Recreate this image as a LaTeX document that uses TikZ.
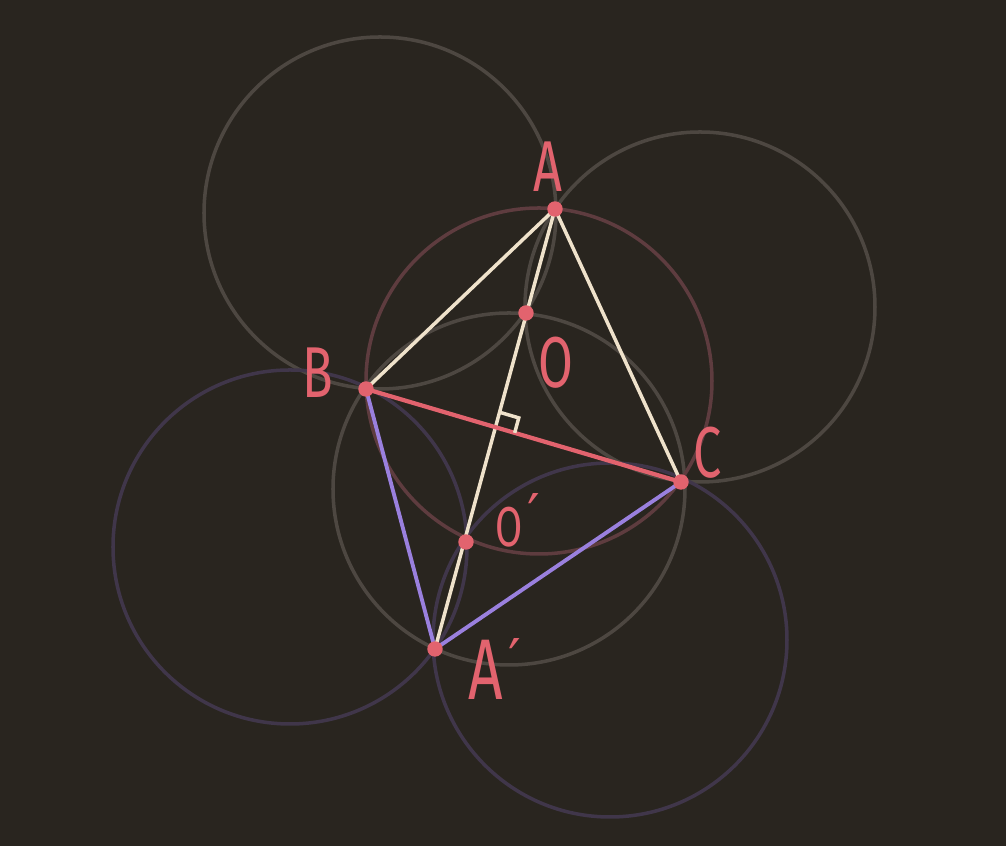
\documentclass[tikz,border=0pt]{standalone}
\usepackage{fontspec}
\setmainfont{Fira Sans}
\newfontfamily\primefont{DejaVu Sans}
\usetikzlibrary{calc}
\definecolor{bgdark}{HTML}{29251F}
\definecolor{circgrey}{HTML}{4D4741}
\definecolor{circred}{HTML}{5E3C3F}
\definecolor{circpurple}{HTML}{40364A}
\definecolor{creamcol}{HTML}{EFE2CB}
\definecolor{coralcol}{HTML}{E2636E}
\definecolor{purplecol}{HTML}{9A80DE}
\newcommand{\ptname}[2][20.5]{\scalebox{0.7}[1]{\fontsize{#1}{#1}\selectfont #2}}
\newcommand{\ptprime}[1][0.08cm]{\hspace{0.05cm}\raisebox{#1}{\primefont\fontsize{16}{16}\selectfont ′}}

\begin{document}
\begin{tikzpicture}[
  greycirc/.style={circgrey, line width=1pt},
  redcirc/.style={circred, line width=1pt},
  purplecirc/.style={circpurple, line width=1pt},
  creamline/.style={creamcol, line width=1pt},
  coralline/.style={coralcol, line width=1.2pt},
  purpleline/.style={purplecol, line width=1.1pt},
  ptlabel/.style={coralcol, anchor=base west, inner sep=0pt}
]
  \useasboundingbox[fill=bgdark] (0,0) rectangle (10.06,8.46);

  % Points
  \coordinate (A) at (5.55,6.37);
  \coordinate (B) at (3.66,4.57);
  \coordinate (C) at (6.81,3.64);
  \coordinate (Ap) at (4.35,1.97);
  \coordinate (O) at (5.26,5.33);
  \coordinate (Op) at (4.66,3.04);

  % Draw the circles
  \draw[greycirc] (3.80,6.33) circle (1.76);
  \draw[greycirc] (7.00,5.39) circle (1.75);
  \draw[greycirc] (5.09,3.57) circle (1.76);
  \draw[redcirc] (5.39,4.65) circle (1.73);
  \draw[purplecirc] (2.90,2.99) circle (1.77);
  \draw[purplecirc] (6.10,2.06) circle (1.77);

  % Draw the triangle and the line through O and O'
  \draw[creamline] (A) -- (B) (A) -- (C) (A) -- (Ap);
  \draw[coralline] (B) -- (C);
  \draw[purpleline] (B) -- (Ap) -- (C);

  % Right angle mark
  \coordinate (F) at (intersection of A--Ap and B--C);
  \coordinate (F1) at ($(F)!0.155cm!(A)$);
  \coordinate (F2) at ($(F)!0.2cm!(C)$);
  \draw[creamline] (F1) -- ($(F1)+(F2)-(F)$) -- (F2);

  % Dots
  \foreach \p in {A,B,C,Ap,O,Op}
    \filldraw[coralcol] (\p) circle (0.07);

  % Labels
  \node[ptlabel] (labA) at (5.33,6.54) {\ptname{A}};
  \node[ptlabel] (labB) at (3.02,4.48) {\ptname{B}};
  \node[ptlabel] (labO) at (5.38,4.58) {\ptname{O}};
  \node[ptlabel] (labC) at (6.93,3.68) {\ptname{C}};
  \node[ptlabel] (labOp) at (4.95,2.99) {\ptname[16]{O}\ptprime[0.12cm]};
  \node[ptlabel] (labAp) at (4.68,1.46) {\ptname[24.5]{A}\ptprime[0.2cm]};
\end{tikzpicture}
\end{document}
